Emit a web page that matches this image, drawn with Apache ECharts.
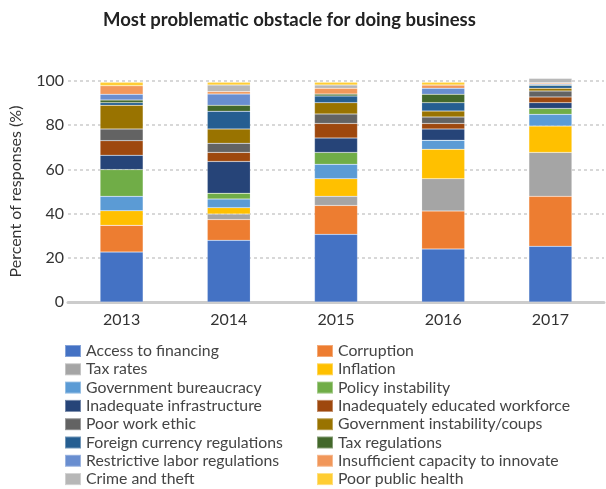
<!DOCTYPE html>
<html>
<head>
<meta charset="utf-8">
<script src="https://cdn.jsdelivr.net/npm/echarts@6/dist/echarts.min.js"></script>
<style>html,body{margin:0;padding:0;background:#fff}#c{width:606px;height:489px}</style>
</head>
<body>
<div id="c"></div>
<script>
var years = ['2013', '2014', '2015', '2016', '2017'];
var seriesNames = ['Access to financing', 'Corruption', 'Tax rates', 'Inflation', 'Government bureaucracy', 'Policy instability', 'Inadequate infrastructure', 'Inadequately educated workforce', 'Poor work ethic', 'Government instability/coups', 'Foreign currency regulations', 'Tax regulations', 'Restrictive labor regulations', 'Insufficient capacity to innovate', 'Crime and theft', 'Poor public health'];
var accessToFinancing = [22.6, 27.9, 30.6, 24.0, 25.2];
var corruption = [12.1, 9.4, 13.1, 17.2, 22.6];
var taxRates = [0, 2.5, 4.1, 14.6, 19.9];
var inflation = [6.6, 2.9, 8.0, 13.3, 11.9];
var governmentBureaucracy = [6.5, 3.9, 6.5, 4.1, 5.3];
var policyInstability = [12.1, 2.6, 5.4, 0, 2.7];
var inadequateInfrastructure = [6.5, 14.4, 6.5, 5.1, 2.6];
var educatedWorkforce = [6.6, 4.1, 6.6, 2.5, 2.6];
var poorWorkEthic = [5.3, 4.1, 4.3, 2.9, 2.7];
var governmentInstability = [10.7, 6.5, 5.1, 2.7, 1.2];
var foreignCurrency = [1.2, 8.0, 3.0, 3.8, 1.3];
var taxRegulations = [1.2, 2.7, 0.9, 3.8, 0.3];
var restrictiveLabor = [2.6, 5.1, 0, 2.7, 0.4];
var insufficientCapacity = [3.9, 1.1, 2.6, 1.5, 0.5];
var crimeAndTheft = [0, 3.0, 1.5, 0, 2.0];
var poorPublicHealth = [1.5, 1.2, 1.2, 1.2, 0];
var yTicks = [0, 20, 40, 60, 80, 100];

var allValues = [accessToFinancing, corruption, taxRates, inflation, governmentBureaucracy, policyInstability, inadequateInfrastructure, educatedWorkforce, poorWorkEthic, governmentInstability, foreignCurrency, taxRegulations, restrictiveLabor, insufficientCapacity, crimeAndTheft, poorPublicHealth];
var colors = ['#4472C4', '#ED7D31', '#A5A5A5', '#FFC000', '#5B9BD5', '#70AD47', '#264478', '#9E480E', '#636363', '#997300', '#255E91', '#43682B', '#698ED0', '#F1975A', '#B7B7B7', '#FFCD33'];

var font = 'Lato, "Open Sans", sans-serif';
var series = seriesNames.map(function (n, i) {
  return {
    name: n, type: 'bar', stack: 'total', data: allValues[i], barWidth: 43, clip: false,
    itemStyle: { color: colors[i], borderColor: 'rgba(255,255,255,0.35)', borderWidth: 0.5 }
  };
});
var leftNames = [], rightNames = [];
seriesNames.forEach(function (n, i) { (i % 2 === 0 ? leftNames : rightNames).push(n); });
var legendCommon = {
  orient: 'vertical', top: 343, itemWidth: 16, itemHeight: 12, itemGap: 2.3, padding: 0,
  icon: 'rect', selectedMode: false,
  textStyle: { fontSize: 15.8, color: '#444', fontFamily: font, lineHeight: 16 }
};
var chart = echarts.init(document.getElementById('c'), null, { renderer: 'canvas' });
chart.setOption({
  animation: false,
  color: colors,
  title: {
    text: 'Most problematic obstacle for doing business', left: 103, top: 11, padding: 0,
    textStyle: { fontSize: 18.5, fontWeight: 'bold', color: '#222', fontFamily: font }
  },
  legend: [
    Object.assign({}, legendCommon, { left: 64, data: leftNames }),
    Object.assign({}, legendCommon, { left: 316, data: rightNames })
  ],
  grid: { left: 68, right: 2, top: 81, bottom: 187, containLabel: false },
  xAxis: {
    type: 'category', data: years,
    axisLine: { lineStyle: { color: '#ccc', width: 3 } },
    axisTick: { show: false },
    axisLabel: { fontSize: 16, color: '#333', margin: 10, fontFamily: font }
  },
  yAxis: {
    type: 'value', min: yTicks[0], max: yTicks[yTicks.length - 1], interval: 20,
    name: 'Percent of responses (%)', nameLocation: 'middle', nameGap: 44,
    nameTextStyle: { fontSize: 16, color: '#333', fontFamily: font },
    axisLine: { show: false }, axisTick: { show: false },
    axisLabel: { fontSize: 16, color: '#333', margin: 4, fontFamily: font },
    splitLine: { lineStyle: { color: '#ccc', type: [3, 3], width: 1.5 } }
  },
  series: series
});
</script>
</body>
</html>
